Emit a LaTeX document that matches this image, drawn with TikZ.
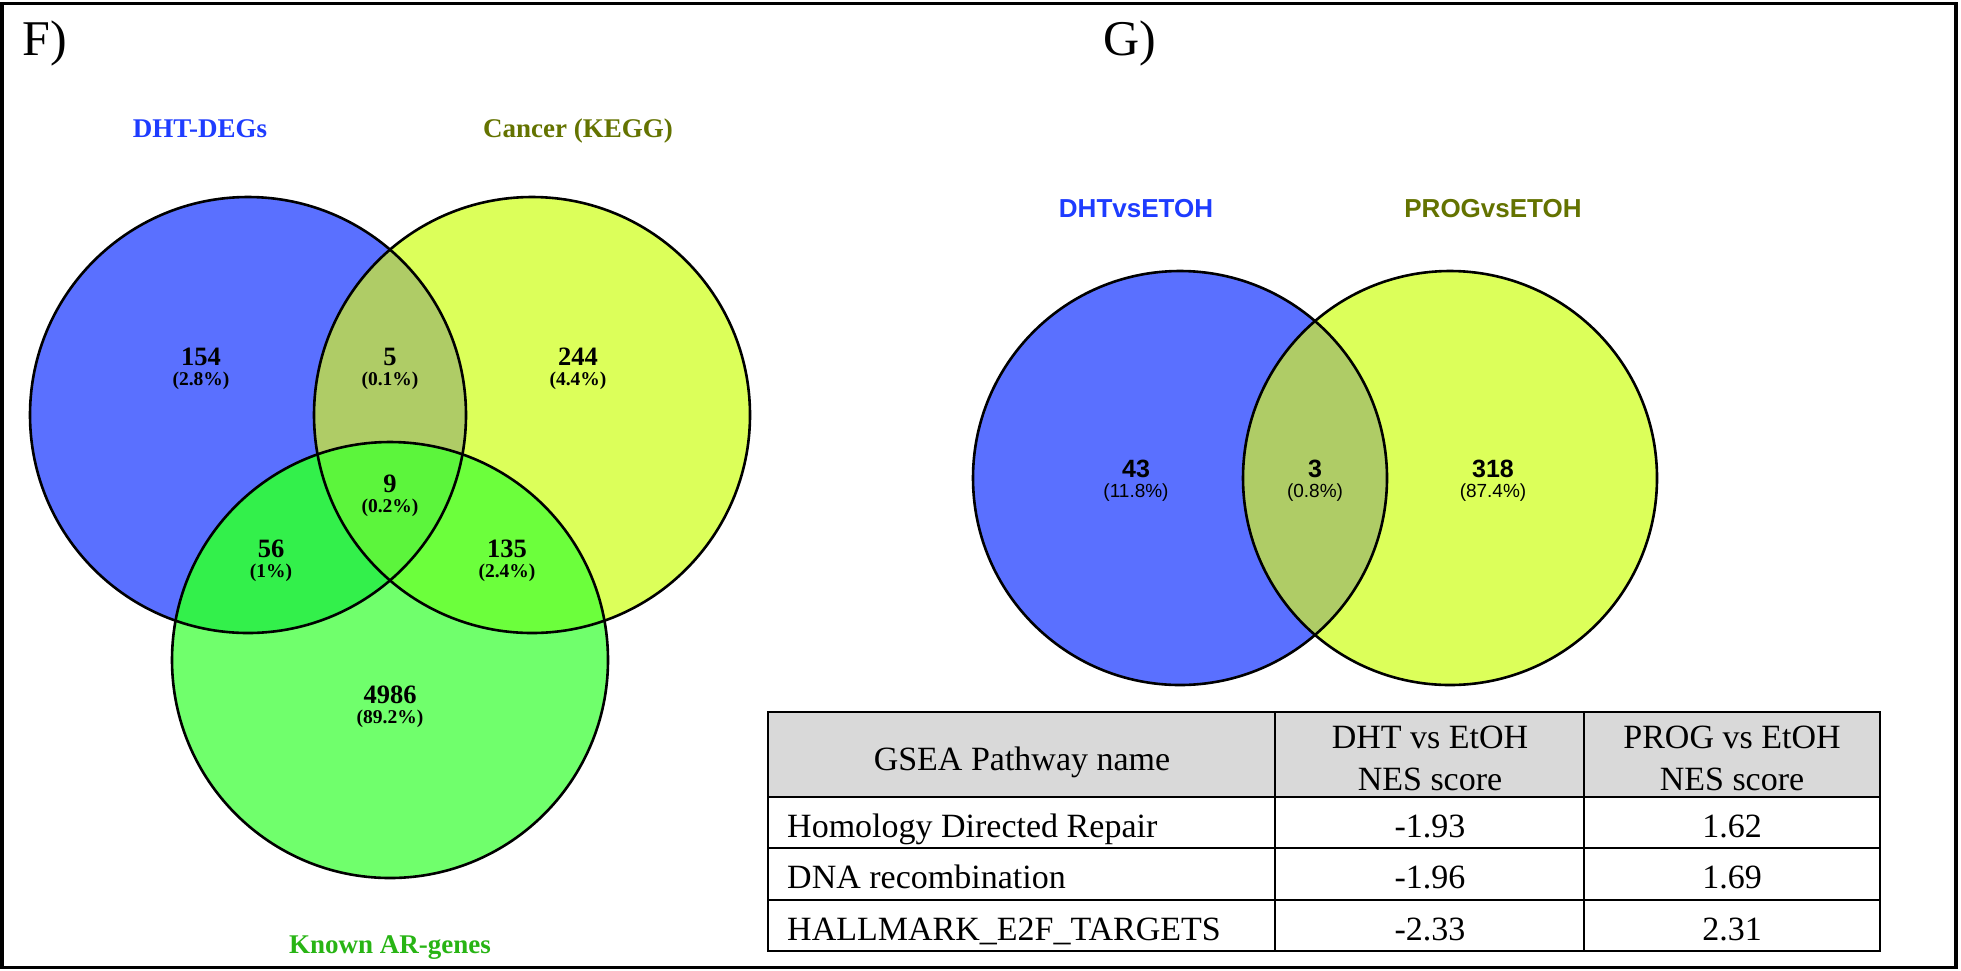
\documentclass[tikz,border=0pt]{standalone}
\usepackage{fontspec}
\setmainfont{Liberation Serif}
\newfontfamily\arialf{Liberation Sans}
\definecolor{vblue}{HTML}{5A70FF}
\definecolor{vyellow}{HTML}{DCFF5A}
\definecolor{vgreen}{HTML}{70FF6C}
\definecolor{vby}{HTML}{AFCC66}
\definecolor{vbg}{HTML}{33F04B}
\definecolor{vyg}{HTML}{6CFF3C}
\definecolor{vbyg}{HTML}{5CF53C}
\definecolor{lblue}{HTML}{1E3CFF}
\definecolor{lolive}{HTML}{647300}
\definecolor{lgreen}{HTML}{28B414}
\definecolor{hdrgray}{HTML}{D9D9D9}
\tikzset{
  panellbl/.style={anchor=base west,inner sep=0,font=\fontsize{50}{56}\selectfont},
  setlbl/.style={anchor=base,inner sep=0,font=\bfseries\fontsize{27}{30}\selectfont},
  fnum/.style={anchor=base,inner sep=0,font=\bfseries\fontsize{26.5}{30}\selectfont},
  fpct/.style={anchor=base,inner sep=0,font=\bfseries\fontsize{19.5}{22}\selectfont},
  gset/.style={anchor=base,inner sep=0,font=\arialf\bfseries\fontsize{26}{30}\selectfont},
  gnum/.style={anchor=base,inner sep=0,font=\arialf\bfseries\fontsize{25}{28}\selectfont},
  gpct/.style={anchor=base,inner sep=0,font=\arialf\fontsize{19}{22}\selectfont},
  celltxt/.style={anchor=base,inner sep=0,font=\fontsize{34}{40}\selectfont},
  cellleft/.style={anchor=base west,inner sep=0,font=\fontsize{34}{40}\selectfont},
  vline/.style={draw=black,line width=2.6pt},
  tline/.style={draw=black,line width=1.8pt}
}
\begin{document}
\begin{tikzpicture}[x=1pt,y=-1pt]
\useasboundingbox (0,0) rectangle (1961,970);
\fill[white] (0,0) rectangle (1961,970);
\draw[line width=3.5pt] (2,3.5) rectangle (1956,967.5);

% panel labels
\node[panellbl] (F) at (22,55) {F)};
\node[panellbl] (G) at (1103,55) {G)};

% ---------- F Venn ----------
\def\cB{(248,415) circle (218pt)}
\def\cY{(532,415) circle (218pt)}
\def\cG{(390,660) circle (218pt)}
\fill[vblue] \cB;
\fill[vyellow] \cY;
\fill[vgreen] \cG;
\begin{scope}\clip \cB; \fill[vby] \cY; \end{scope}
\begin{scope}\clip \cB; \fill[vbg] \cG; \end{scope}
\begin{scope}\clip \cY; \fill[vyg] \cG; \end{scope}
\begin{scope}\clip \cB; \clip \cY; \fill[vbyg] \cG; \end{scope}
\draw[vline] \cB;
\draw[vline] \cY;
\draw[vline] \cG;

\node[setlbl,text=lblue] (lDHT) at (200,137) {DHT-DEGs};
\node[setlbl,text=lolive] (lCan) at (578,137) {Cancer (KEGG)};
\node[setlbl,text=lgreen] (lAR) at (390,953) {Known AR-genes};

\node[fnum] (n154) at (201,365) {154};
\node[fpct] (p154) at (201,385) {(2.8\%)};
\node[fnum] (n5) at (390,365) {5};
\node[fpct] (p5) at (390,385) {(0.1\%)};
\node[fnum] (n244) at (578,365) {244};
\node[fpct] (p244) at (578,385) {(4.4\%)};
\node[fnum] (n9) at (390,492) {9};
\node[fpct] (p9) at (390,512) {(0.2\%)};
\node[fnum] (n56) at (271,557) {56};
\node[fpct] (p56) at (271,577) {(1\%)};
\node[fnum] (n135) at (507,557) {135};
\node[fpct] (p135) at (507,577) {(2.4\%)};
\node[fnum] (n4986) at (390,703) {4986};
\node[fpct] (p4986) at (390,723) {(89.2\%)};

% ---------- G Venn ----------
\def\gB{(1180,478) circle (207pt)}
\def\gY{(1450,478) circle (207pt)}
\fill[vblue] \gB;
\fill[vyellow] \gY;
\begin{scope}\clip \gB; \fill[vby] \gY; \end{scope}
\draw[vline] \gB;
\draw[vline] \gY;

\node[gset,text=lblue] (lDvE) at (1136,217) {DHTvsETOH};
\node[gset,text=lolive] (lPvE) at (1493,217) {PROGvsETOH};
\node[gnum] (n43) at (1136,477) {43};
\node[gpct] (p43) at (1136,497) {(11.8\%)};
\node[gnum] (n3) at (1315,477) {3};
\node[gpct] (p3) at (1315,497) {(0.8\%)};
\node[gnum] (n318) at (1493,477) {318};
\node[gpct] (p318) at (1493,497) {(87.4\%)};

% ---------- table ----------
\fill[hdrgray] (768,712) rectangle (1880,797);
\draw[tline] (768,712) rectangle (1880,951);
\draw[tline] (768,797) -- (1880,797);
\draw[tline] (768,848) -- (1880,848);
\draw[tline] (768,900) -- (1880,900);
\draw[tline] (1275,712) -- (1275,951);
\draw[tline] (1584,712) -- (1584,951);

\node[celltxt] (h1) at (1022,770) {GSEA Pathway name};
\node[celltxt] (h2a) at (1430,748) {DHT vs EtOH};
\node[celltxt] (h2b) at (1430,790) {NES score};
\node[celltxt] (h3a) at (1732,748) {PROG vs EtOH};
\node[celltxt] (h3b) at (1732,790) {NES score};

\node[cellleft] (r1) at (787,837) {Homology Directed Repair};
\node[celltxt] (r1a) at (1430,837) {-1.93};
\node[celltxt] (r1b) at (1732,837) {1.62};
\node[cellleft] (r2) at (787,888) {DNA recombination};
\node[celltxt] (r2a) at (1430,888) {-1.96};
\node[celltxt] (r2b) at (1732,888) {1.69};
\node[cellleft] (r3) at (787,940) {HALLMARK\_E2F\_TARGETS};
\node[celltxt] (r3a) at (1430,940) {-2.33};
\node[celltxt] (r3b) at (1732,940) {2.31};
\end{tikzpicture}
\end{document}
